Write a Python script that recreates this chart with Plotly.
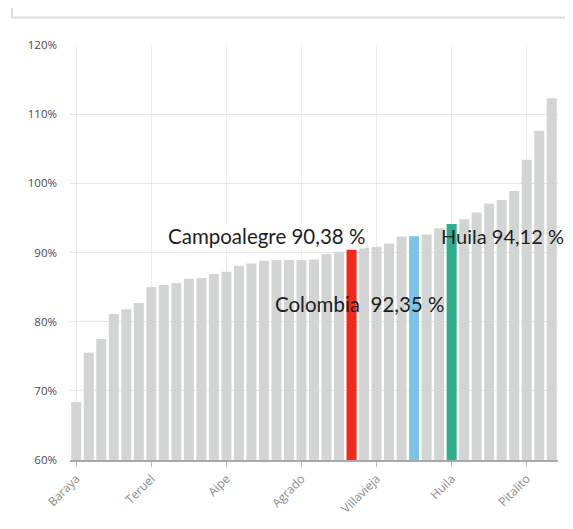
import plotly.graph_objects as go

names = ["Baraya", "Tello", "Íquira", "Algeciras", "Palermo", "Santa María", "Teruel",
         "Hobo", "Yaguará", "Tesalia", "Paicol", "Rivera", "Aipe", "Nátaga", "La Plata",
         "Neiva", "Gigante", "Tarqui", "Agrado", "Altamira", "Garzón", "Elías",
         "Campoalegre", "Suaza", "Villavieja", "Guadalupe", "Colombia (Huila)", "Colombia",
         "Oporapa", "Timaná", "Huila", "Pital", "La Argentina", "Saladoblanco", "Acevedo",
         "San Agustín", "Pitalito", "Isnos", "Palestina"]
values = [68.4, 75.5, 77.5, 81.1, 81.8, 82.7, 85.0,
          85.3, 85.6, 86.2, 86.3, 86.9, 87.2, 88.1, 88.4,
          88.8, 88.9, 88.9, 88.9, 89.0, 89.8, 90.1,
          90.38, 90.7, 90.8, 91.3, 92.3, 92.35,
          92.6, 93.5, 94.12, 94.8, 95.8, 97.1, 97.6,
          98.9, 103.4, 107.6, 112.3]
tick_names = ["Baraya", "Teruel", "Aipe", "Agrado", "Villavieja", "Huila", "Pitalito"]
y_ticks = [60, 70, 80, 90, 100, 110, 120]
y_tick_labels = ["60%", "70%", "80%", "90%", "100%", "110%", "120%"]

highlight = {"Campoalegre": "#f5281a", "Colombia": "#7cc3ea", "Huila": "#2fae8e"}
colors = [highlight.get(n, "#d3d5d4") for n in names]

fig = go.Figure(go.Bar(x=names, y=values, marker=dict(color=colors, line=dict(width=0)),
                       hoverinfo="x+y"))

ann_font = dict(family="Lato, Open Sans, sans-serif", size=20.5, color="#1e1e1e")
fig.add_annotation(x="Campoalegre", y=92.45, xref="x", yref="y", text="Campoalegre 90,38 %",
                   showarrow=False, xanchor="right", yanchor="middle", xshift=14,
                   bgcolor="white", font=ann_font, borderpad=0)
fig.add_annotation(x="Colombia", y=82.5, xref="x", yref="y", text="Colombia  92,35 %",
                   showarrow=False, xanchor="right", yanchor="middle", xshift=31,
                   font=ann_font, borderpad=0)
fig.add_annotation(x="Huila", y=92.45, xref="x", yref="y", text="Huila 94,12 %",
                   showarrow=False, xanchor="left", yanchor="middle", xshift=-12,
                   font=dict(family="Lato, Open Sans, sans-serif", size=20, color="#1e1e1e"),
                   borderpad=0)

# top card frame (decoration)
fig.add_shape(type="path", xref="paper", yref="paper",
              path="M -0.119 1.2 L -0.119 1.066 L 1.0143 1.066",
              line=dict(color="#dcdcdc", width=2))

fig.update_layout(
    width=565, height=521,
    margin=dict(l=62, r=15, t=37, b=66),
    plot_bgcolor="white", paper_bgcolor="white",
    bargap=0.2, showlegend=False,
    font=dict(family="Open Sans, sans-serif"),
    xaxis=dict(tickmode="array", tickvals=tick_names, ticktext=tick_names,
               tickangle=-45, tickfont=dict(size=12, color="#8a8a8a"),
               ticks="outside", ticklen=5, tickcolor="#bbbbbb",
               showgrid=True, gridcolor="#ececec", gridwidth=1,
               showline=True, linecolor="#a8a8a8", linewidth=2,
               range=[-0.5, len(names) - 0.5]),
    yaxis=dict(range=[60, 120], tickmode="array", tickvals=y_ticks, ticktext=y_tick_labels,
               tickfont=dict(size=11.5, color="#4a4a4a"),
               showgrid=True, gridcolor="#e6e6e6", gridwidth=1,
               zeroline=False, ticklabelstandoff=12),
)

fig.write_html("out.html")
